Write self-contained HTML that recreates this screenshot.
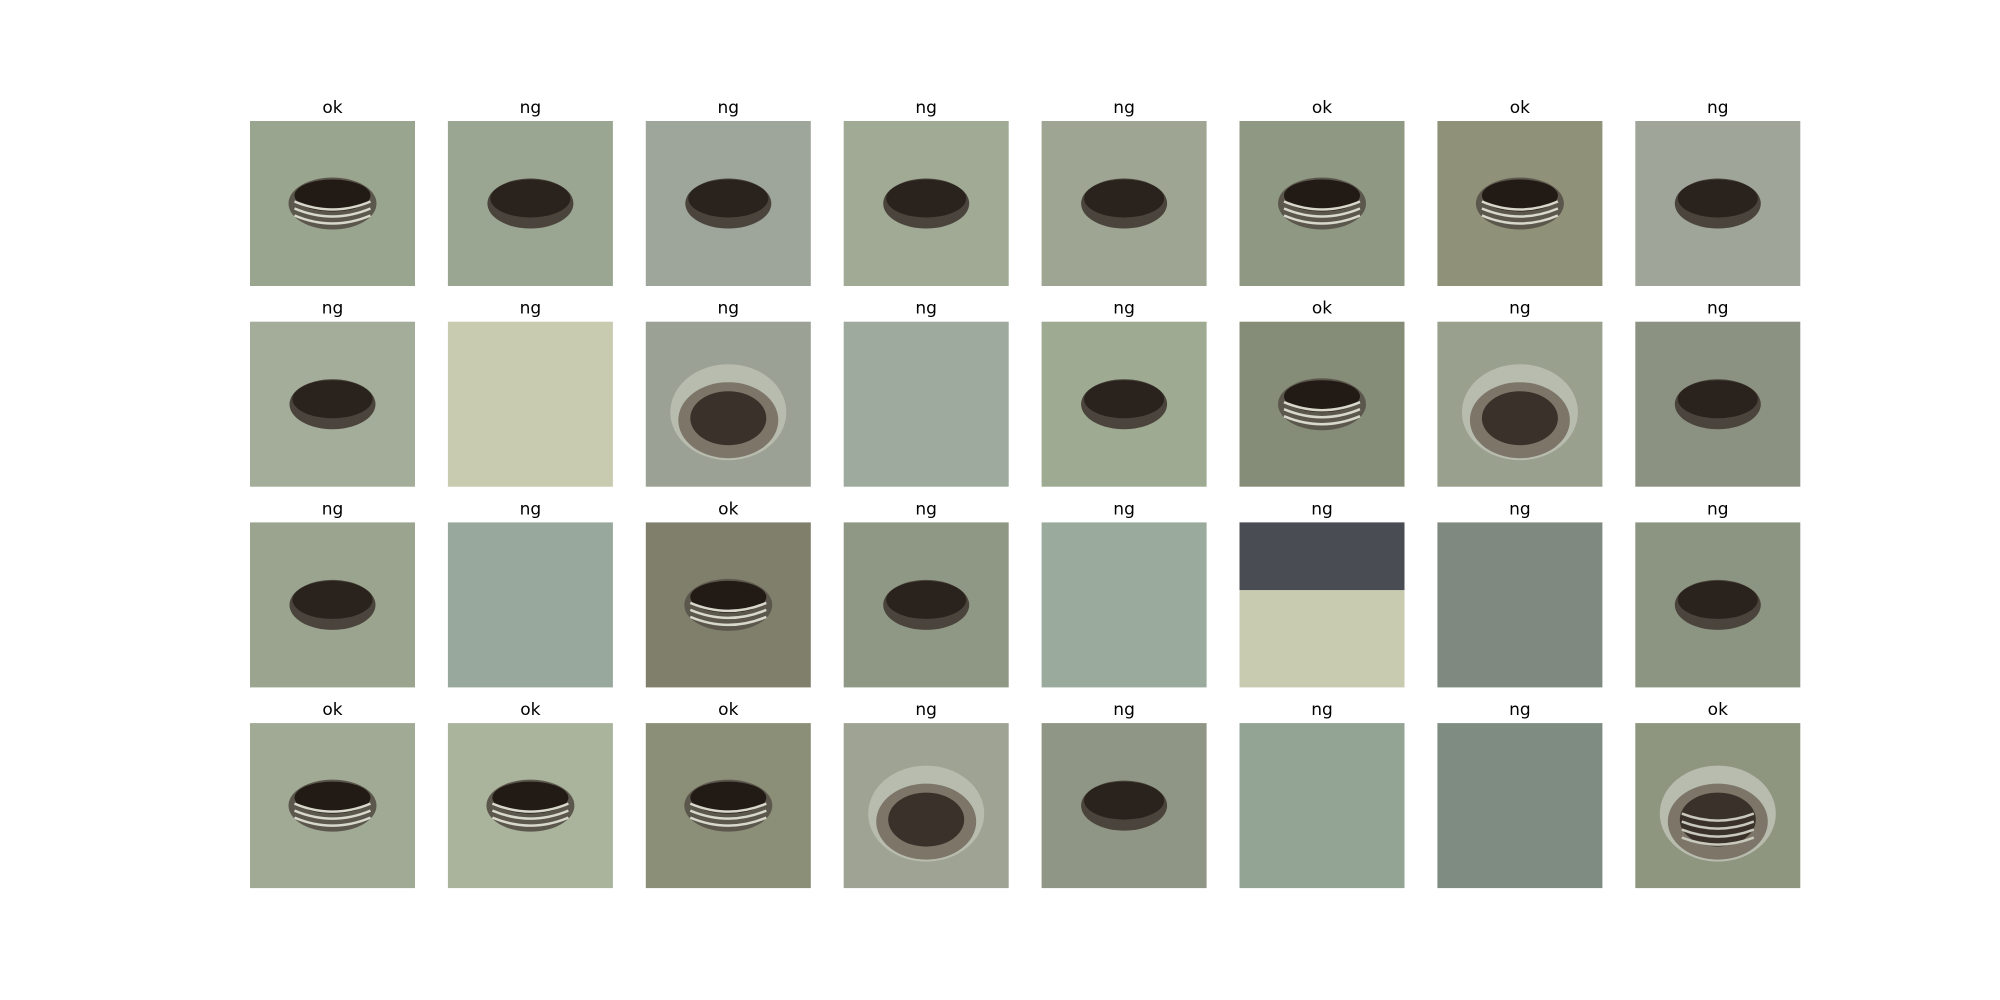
<!DOCTYPE html>
<html><head><meta charset="utf-8"><style>
html,body{margin:0;padding:0;background:#fff;}
svg{display:block;font-family:"DejaVu Sans","Liberation Sans",sans-serif;}
</style></head><body>
<svg id="fig" width="2000" height="1000" viewBox="0 0 2000 1000"></svg>
<script>
const labels = ["ok","ng","ng","ng","ng","ok","ok","ng",
                "ng","ng","ng","ng","ng","ok","ng","ng",
                "ng","ng","ok","ng","ng","ng","ng","ng",
                "ok","ok","ok","ng","ng","ng","ng","ok"];
const kinds = ["thread","hole","hole","hole","hole","thread","thread","hole",
               "hole","blank","sink","blank","hole","thread","sink","hole",
               "hole","blank","thread","hole","blank","special","blank","hole",
               "thread","thread","thread","sink","hole","blank","blank","sinkthread"];
const bgColors = ["#9aa58f","#9aa592","#9ea59a","#a0aa95","#9ea693","#8e9883","#8f9278","#9fa699",
                  "#a3ad9a","#c8cbb0","#9ba195","#9eaa9e","#9eaa92","#858d78","#9aa08e","#8c9282",
                  "#9aa48f","#98a89c","#807f6c","#8f9884","#9aab9e","#c8cbb0","#7f897f","#8c9582",
                  "#a0aa95","#aab49c","#8c8f78","#9ea393","#8f9685","#93a494","#7f8c82","#8f9680"];
const NS="http://www.w3.org/2000/svg";
const svg=document.getElementById('fig');
const x0=250,y0=121,size=165,dx=197.9,dy=200.7;
function el(t,a){const e=document.createElementNS(NS,t);for(const k in a)e.setAttribute(k,a[k]);return e;}
labels.forEach((lab,i)=>{
  const c=i%8,r=Math.floor(i/8);
  const x=x0+c*dx,y=y0+r*dy,cx=x+size/2,cy=y+size*0.5;
  const g=el('g',{});
  
  
  const t=el('text',{x:cx,y:y-8,'text-anchor':'middle','font-size':17,fill:'#000'});
  t.textContent=lab;
  
  
  g.appendChild(t);
  g.appendChild(el('rect',{x:x,y:y,width:size,height:size,fill:bgColors[i]}));
  const k=kinds[i];
  if(k==='hole'){
    g.appendChild(el('ellipse',{cx:cx,cy:cy,rx:43,ry:25,fill:'#4a443c'}));
    g.appendChild(el('ellipse',{cx:cx,cy:cy-5,rx:40,ry:19,fill:'#2a221c'}));
  } else if(k==='thread'){
    g.appendChild(el('ellipse',{cx:cx,cy:cy,rx:44,ry:26,fill:'#5c574d'}));
    g.appendChild(el('ellipse',{cx:cx,cy:cy-8,rx:38,ry:16,fill:'#221a14'}));
    for(let j=0;j<3;j++)g.appendChild(el('path',{d:`M${cx-38} ${cy+j*7-2} Q${cx} ${cy+j*7+14} ${cx+38} ${cy+j*7-2}`,stroke:'#d8d8cc','stroke-width':2.5,fill:'none'}));
  } else if(k==='sink'||k==='sinkthread'){
    g.appendChild(el('ellipse',{cx:cx,cy:cy+8,rx:58,ry:48,fill:'#b8bcae'}));
    g.appendChild(el('ellipse',{cx:cx,cy:cy+16,rx:50,ry:38,fill:'#7d7668'}));
    g.appendChild(el('ellipse',{cx:cx,cy:cy+14,rx:38,ry:27,fill:'#3a322a'}));
    if(k==='sinkthread')for(let j=0;j<4;j++)g.appendChild(el('path',{d:`M${cx-36} ${cy+j*8+8} Q${cx} ${cy+j*8+22} ${cx+36} ${cy+j*8+8}`,stroke:'#c8c8bc','stroke-width':2.5,fill:'none'}));
  } else if(k==='special'){
    g.appendChild(el('rect',{x:x,y:y,width:size,height:size*0.41,fill:'#4a4c54'}));
  }
  svg.appendChild(g);
});
</script>
</body></html>
